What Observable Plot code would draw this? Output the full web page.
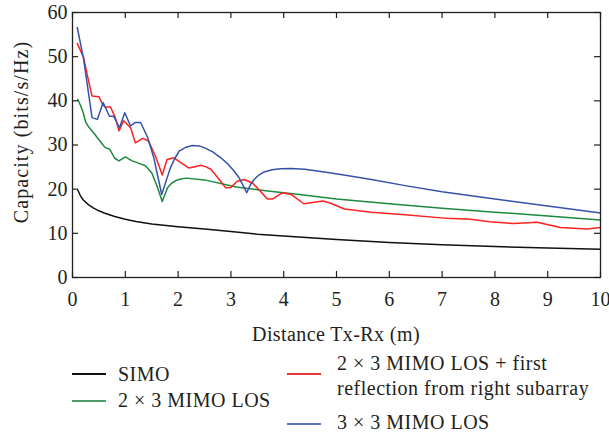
<!DOCTYPE html>
<html>
<head>
<meta charset="utf-8">
<script src="https://cdn.jsdelivr.net/npm/d3@7"></script>
<script src="https://cdn.jsdelivr.net/npm/@observablehq/plot@0.6"></script>
<style>
  html, body { margin: 0; padding: 0; background: #fff; }
  #wrap { position: relative; width: 609px; height: 436px; overflow: hidden; font-family: "Liberation Serif", serif; color: #231f20; }
  .t { position: absolute; font-size: 20px; line-height: 20px; white-space: nowrap; letter-spacing: 0.5px; }
  .sw { position: absolute; height: 2px; width: 34px; }
</style>
</head>
<body>
<div id="wrap"></div>
<script>
// ---- data ----
const xTicks = [0, 1, 2, 3, 4, 5, 6, 7, 8, 9, 10];
const yTicks = [0, 10, 20, 30, 40, 50, 60];

const seriesNames = ["SIMO", "2 × 3 MIMO LOS", "2 × 3 MIMO LOS + first reflection from right subarray", "3 × 3 MIMO LOS"];

const simoX = [0.1,0.15,0.2,0.3,0.4,0.5,0.6,0.8,1.0,1.2,1.5,2,2.5,3,3.5,4,5,6,7,8,9,10];
const simoY = [19.8,18.5,17.6,16.5,15.7,15.1,14.6,13.8,13.2,12.7,12.1,11.5,11.0,10.4,9.8,9.4,8.6,7.9,7.4,7.0,6.7,6.4];

const los23X = [0.1,0.15,0.2,0.25,0.3,0.41,0.5,0.56,0.62,0.7,0.8,0.88,1.0,1.13,1.25,1.38,1.5,1.6,1.7,1.8,1.88,1.95,2.05,2.15,2.5,3.1,3.7,4.3,5,6,7,8,9,10];
const los23Y = [40.3,39.0,37.4,35.2,34.2,32.6,31.2,30.3,29.4,29.1,27.0,26.4,27.3,26.4,25.9,25.3,23.7,20.7,17.2,20.3,21.4,21.9,22.3,22.5,22.1,20.5,19.6,18.8,17.8,16.7,15.7,14.8,13.9,13.0];

const reflX = [0.09,0.21,0.31,0.37,0.5,0.58,0.62,0.72,0.81,0.88,0.97,1.1,1.19,1.33,1.44,1.57,1.7,1.79,1.92,2.05,2.2,2.32,2.43,2.52,2.62,2.78,2.9,3.0,3.12,3.25,3.41,3.56,3.69,3.79,3.98,4.14,4.38,4.51,4.74,4.89,5.15,5.66,6.3,6.98,7.1,7.54,7.9,8.36,8.8,9.24,9.75,10];
const reflY = [53.0,49.8,44.2,41.1,40.9,39.0,38.6,38.6,36.2,33.2,35.5,33.9,30.5,31.5,30.9,27.5,23.2,26.7,27.1,26.0,24.8,25.1,25.4,25.1,24.5,22.2,20.3,20.4,21.8,22.2,21.4,19.5,17.8,17.8,19.2,18.8,16.7,16.9,17.3,16.8,15.5,14.8,14.2,13.5,13.4,13.2,12.6,12.2,12.5,11.3,11.0,11.3];

const los33X = [0.09,0.21,0.37,0.47,0.58,0.7,0.78,0.89,0.99,1.1,1.19,1.29,1.42,1.54,1.69,1.79,1.86,1.94,2.02,2.15,2.27,2.4,2.49,2.65,2.81,2.95,3.06,3.15,3.22,3.30,3.37,3.44,3.53,3.63,3.78,3.94,4.14,4.4,4.77,5.2,5.66,6.3,7.0,8,9,10];
const los33Y = [56.6,49.5,36.2,35.8,39.6,36.5,36.5,33.9,37.3,34.3,35.1,35.1,31.8,27.1,18.8,22.5,25.0,27.0,28.6,29.5,29.9,29.8,29.4,28.5,27.1,25.6,24.1,22.7,21.1,19.2,21.0,22.2,23.2,23.9,24.4,24.6,24.7,24.5,23.9,23.1,22.2,20.8,19.4,17.8,16.2,14.6];

const lineColors = ["#111111", "#1b8a3c", "#ff2020", "#3552ab"];
const swatchColors = ["#111111", "#4f9d69", "#ee3535", "#5a72b8"];

// ---- build table ----
const xs = [simoX, los23X, reflX, los33X];
const ys = [simoY, los23Y, reflY, los33Y];
const rows = [];
seriesNames.forEach((s, i) => xs[i].forEach((x, j) => rows.push({series: s, x, y: ys[i][j]})));

const W = 609, H = 345, mL = 72, mR = 9, mT = 12, mB = 68;
const fw = W - mL - mR, fh = H - mT - mB;

const chart = Plot.plot({
  width: W, height: H,
  marginLeft: mL, marginRight: mR, marginTop: mT, marginBottom: mB,
  style: {fontFamily: "Liberation Serif, serif", fontSize: "20px", color: "#231f20", background: "white", overflow: "visible"},
  x: {domain: [0, 10]},
  y: {domain: [0, 60]},
  color: {domain: seriesNames, range: lineColors},
  marks: [
    Plot.line(rows, {x: "x", y: "y", z: "series", stroke: "series", strokeWidth: 1.5}),
    Plot.tickX(xTicks, {x: d => d, insetTop: fh - 6, stroke: "#231f20", strokeWidth: 1.2}),
    Plot.tickX(xTicks, {x: d => d, insetBottom: fh - 6, stroke: "#231f20", strokeWidth: 1.2}),
    Plot.tickY(yTicks, {y: d => d, insetRight: fw - 6, stroke: "#231f20", strokeWidth: 1.2}),
    Plot.tickY(yTicks, {y: d => d, insetLeft: fw - 6, stroke: "#231f20", strokeWidth: 1.2}),
    Plot.axisX(xTicks, {anchor: "bottom", tickSize: 0, tickPadding: 14, label: null, fontSize: 20}),
    Plot.axisY(yTicks, {anchor: "left", tickSize: 0, tickPadding: 5, label: null, fontSize: 20}),
    Plot.frame({stroke: "#231f20", strokeWidth: 1.3})
  ]
});

const wrap = document.getElementById("wrap");
chart.style.position = "absolute";
chart.style.left = "0px";
chart.style.top = "0px";
wrap.appendChild(chart);

function addText(txt, left, top, extra) {
  const d = document.createElement("div");
  d.className = "t";
  d.textContent = txt;
  d.style.left = left + "px";
  d.style.top = top + "px";
  if (extra) Object.assign(d.style, extra);
  wrap.appendChild(d);
  return d;
}
function addSwatch(color, left, top) {
  const d = document.createElement("div");
  d.className = "sw";
  d.style.background = color;
  d.style.left = left + "px";
  d.style.top = top + "px";
  wrap.appendChild(d);
}

// axis titles
addText("Distance Tx-Rx (m)", 336, 324, {transform: "translateX(-50%)", letterSpacing: "0.4px"});
addText("Capacity (bits/s/Hz)", 21, 132, {transform: "translate(-50%,-50%) rotate(-90deg)", letterSpacing: "1.1px"});

// legend
addSwatch(swatchColors[0], 72, 373);
addText(seriesNames[0], 118, 364);
addSwatch(swatchColors[1], 72, 400);
addText(seriesNames[1], 118, 390);
addSwatch(swatchColors[2], 287, 373);
addText("2 × 3 MIMO LOS + first", 337, 353);
addText("reflection from right subarray", 337, 378);
addSwatch(swatchColors[3], 287, 422.5);
addText(seriesNames[3], 337, 412);
</script>
</body>
</html>
